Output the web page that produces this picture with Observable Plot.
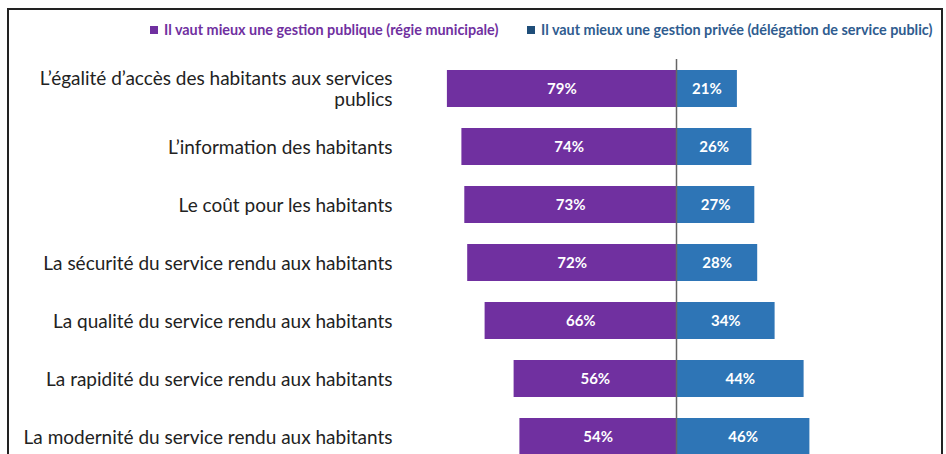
<!DOCTYPE html>
<html>
<head>
<meta charset="utf-8">
<script src="https://cdn.jsdelivr.net/npm/d3@7"></script>
<script src="https://cdn.jsdelivr.net/npm/@observablehq/plot@0.6"></script>
<style>
  html, body { margin: 0; padding: 0; background: #fff; }
  #wrap { position: relative; width: 946px; height: 454px; overflow: hidden; }
  #frame { position: absolute; left: 7px; top: 8px; width: 936px; height: 460px;
           border: 2px solid #222; box-sizing: border-box; }
  #legend { position: absolute; top: 21px; left: 0; width: 946px; font-family: Lato, sans-serif;
            font-weight: bold; font-size: 14.4px; white-space: nowrap; }
  .item { position: absolute; top: 0; display: flex; align-items: center; }
  .sw { width: 8px; height: 8px; margin-right: 6px; }
  svg { position: absolute; left: 0; top: 0; }
</style>
</head>
<body>
<div id="wrap">
  <div id="frame"></div>
  <div id="legend"></div>
</div>
<script>
const categories = [
  "L’égalité d’accès des habitants aux services\npublics",
  "L’information des habitants",
  "Le coût pour les habitants",
  "La sécurité du service rendu aux habitants",
  "La qualité du service rendu aux habitants",
  "La rapidité du service rendu aux habitants",
  "La modernité du service rendu aux habitants"
];
const publique = [79, 74, 73, 72, 66, 56, 54];
const privee = [21, 26, 27, 28, 34, 44, 46];
const series = [
  "Il vaut mieux une gestion publique (régie municipale)",
  "Il vaut mieux une gestion privée (délégation de service public)"
];
const barColors = ["#7030A0", "#2E75B6"];
const legendText = ["#7030A0", "#2F5C8F"];
const legendSw = ["#7030A0", "#1F4E79"];

const rows = [];
categories.forEach((c, i) => {
  rows.push({cat: c, serie: series[0], v: -publique[i], p: publique[i]});
  rows.push({cat: c, serie: series[1], v: privee[i], p: privee[i]});
});

const chart = Plot.plot({
  width: 946,
  height: 454,
  marginLeft: 444,
  marginRight: 9,
  marginTop: 70,
  marginBottom: -1.5,
  style: {fontFamily: "Lato, sans-serif", background: "transparent"},
  x: {domain: [-80, 90], axis: null},
  y: {domain: categories, paddingInner: 0.36, paddingOuter: 0, label: null},
  color: {domain: series, range: barColors},
  marks: [
    Plot.barX(rows, {x1: 0, x2: "v", y: "cat", fill: "serie"}),
    Plot.ruleX([0], {stroke: "#666", strokeWidth: 1.5, insetTop: -11}),
    Plot.text(rows, {x: d => d.v / 2, y: "cat", text: d => d.p + "%", fill: "white",
      fontWeight: "bold", fontSize: 15}),
    Plot.axisY({tickSize: 0, tickPadding: 52, fontSize: 19, fill: "#222", label: null, lineHeight: 1.12})
  ]
});
document.getElementById("wrap").appendChild(chart);

const legend = document.getElementById("legend");
const lx = [150, 527];
series.forEach((s, i) => {
  const it = document.createElement("div");
  it.className = "item";
  it.style.left = lx[i] + "px";
  it.style.color = legendText[i];
  const sw = document.createElement("span");
  sw.className = "sw";
  sw.style.background = legendSw[i];
  it.appendChild(sw);
  it.appendChild(document.createTextNode(s));
  legend.appendChild(it);
});
</script>
</body>
</html>
